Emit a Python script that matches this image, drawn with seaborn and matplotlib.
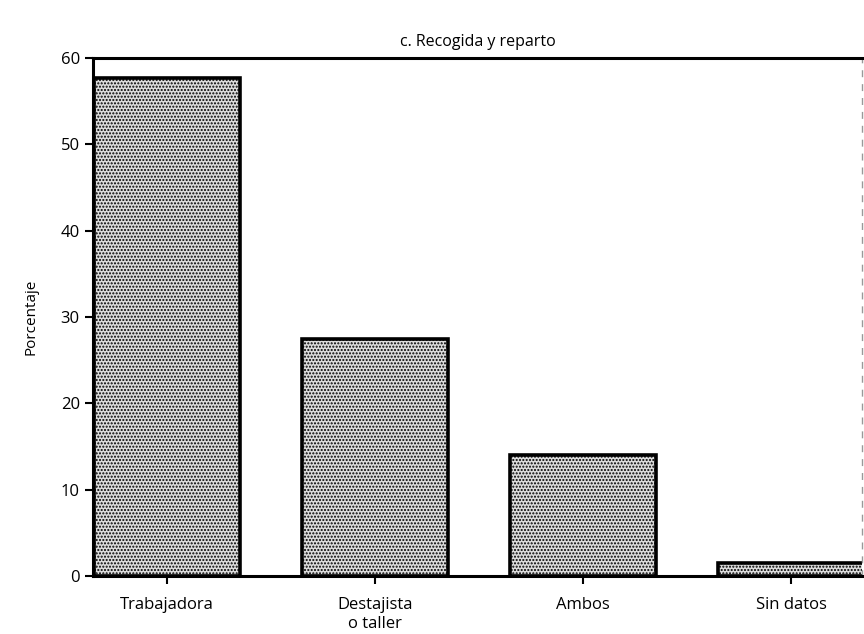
import matplotlib
matplotlib.use("Agg")
import matplotlib.pyplot as plt
import seaborn as sns
import pandas as pd

categories = ["Trabajadora", "Destajista\no taller", "Ambos", "Sin datos"]
values = [57.7, 27.5, 14.0, 1.5]
yticks = [0, 10, 20, 30, 40, 50, 60]

sns.set_theme(style="ticks")
plt.rcParams['font.family'] = ['Open Sans', 'DejaVu Sans']
plt.rcParams['hatch.color'] = '#222222'
plt.rcParams['hatch.linewidth'] = 1.0

df = pd.DataFrame({"cat": categories, "val": values})

fig = plt.figure(figsize=(8.64, 6.34), dpi=100)
ax = fig.add_axes([93/864, 58/634, (862-93)/864, (576-58)/634])

sns.barplot(data=df, x="cat", y="val", color="white", edgecolor="black",
            linewidth=2.6, width=0.7, ax=ax, saturation=1)
for p in ax.patches:
    p.set_hatch('.....')
    p.set_facecolor('#dcdcdc')

ax.set_xlim(-0.355, 3.34)
ax.set_ylim(0, 60)
ax.set_yticks(yticks)
ax.set_xlabel("")
ax.set_ylabel("Porcentaje", fontsize=11, labelpad=16, color='black')
ax.set_title("c. Recogida y reparto", fontsize=11.5, pad=9, color='black')

for s in ["left", "bottom", "top"]:
    ax.spines[s].set_linewidth(2.2)
    ax.spines[s].set_color("black")
ax.spines["right"].set_linewidth(1.0)
ax.spines["right"].set_color("#999999")
ax.spines["right"].set_linestyle((0, (4, 6)))

ax.tick_params(axis='both', direction='out', length=6, width=1.5, color='black',
               labelcolor='black')
ax.tick_params(axis='x', pad=9, labelsize=12)
ax.tick_params(axis='y', labelsize=12)
for lbl in ax.get_xticklabels():
    lbl.set_linespacing(1.25)

fig.savefig("out.png", dpi=100, facecolor="white")
